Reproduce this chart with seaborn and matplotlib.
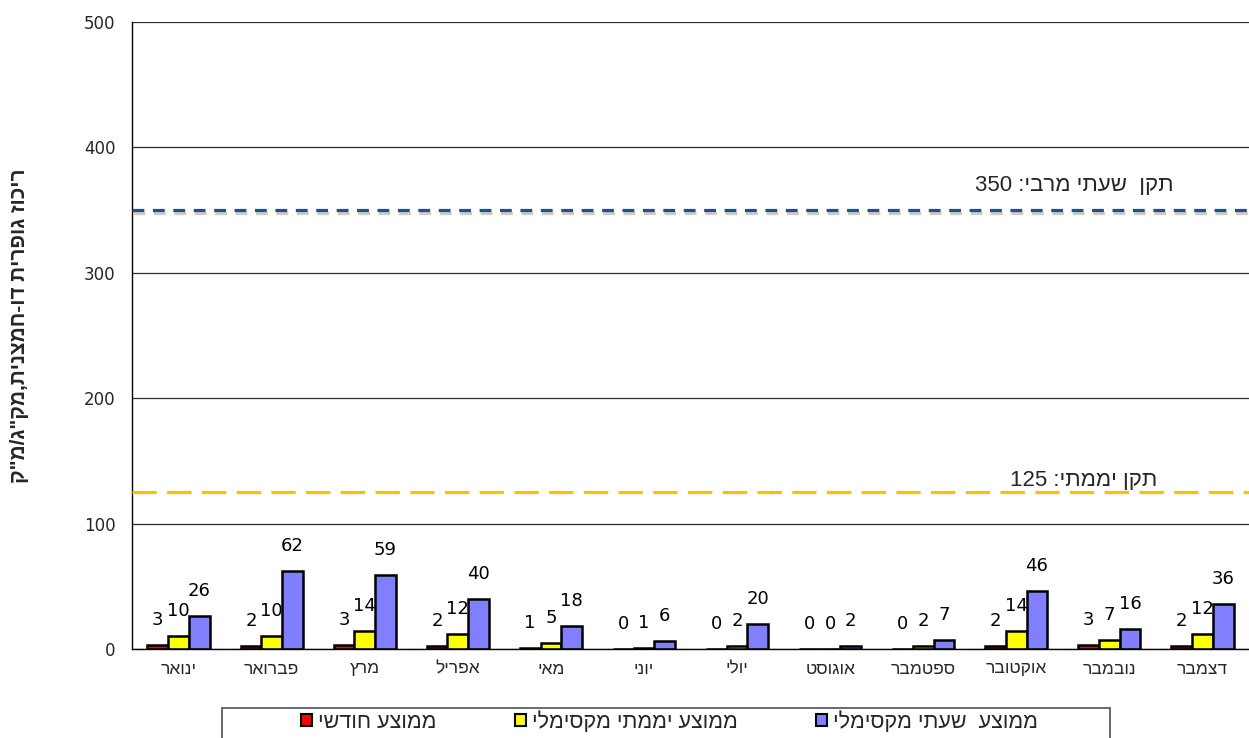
import matplotlib
matplotlib.use("Agg")
import matplotlib.pyplot as plt
import matplotlib.patheffects as pe
from matplotlib.patches import Patch, Rectangle
import numpy as np
import pandas as pd
import seaborn as sns

# Sulfur dioxide concentrations by month (µg/m³)
months = ['ינואר', 'פברואר', 'מרץ', 'אפריל', 'מאי', 'יוני',
          'יולי', 'אוגוסט', 'ספטמבר', 'אוקטובר', 'נובמבר', 'דצמבר']
monthly_avg = [3, 2, 3, 2, 1, 0, 0, 0, 0, 2, 3, 2]
daily_max_avg = [10, 10, 14, 12, 5, 1, 2, 0, 2, 14, 7, 12]
hourly_max_avg = [26, 62, 59, 40, 18, 6, 20, 2, 7, 46, 16, 36]

series_names = ['ממוצע חודשי', 'ממוצע יממתי מקסימלי', 'ממוצע  שעתי מקסימלי']
series_colors = ['#FF0000', '#FFFF00', '#8080FF']

hourly_standard = 350
daily_standard = 125
y_label = 'ריכוז גופרית דו-חמצנית,מק"ג/מ"ק'
y_ticks = [0, 100, 200, 300, 400, 500]


def rtl(text):
    """Visual (left-to-right) order for a right-to-left Hebrew string."""
    return text[::-1]


def rtl_with_number(hebrew, number):
    return f"{number} :" + rtl(hebrew)


sns.set_style("white")
plt.rcParams['font.family'] = ['Liberation Sans', 'DejaVu Sans']
plt.rcParams['lines.scale_dashes'] = False

vis_months = [rtl(m) for m in months]
vis_series = [rtl(s) for s in series_names]

df = pd.DataFrame({
    'month': vis_months * 3,
    'series': sum([[s] * 12 for s in vis_series], []),
    'value': monthly_avg + daily_max_avg + hourly_max_avg,
})

fig = plt.figure(figsize=(12.49, 7.38), dpi=100)
ax = fig.add_axes([132 / 1249, 89 / 738, 1117 / 1249, 627 / 738])

sns.barplot(data=df, x='month', y='value', hue='series', order=vis_months,
            hue_order=vis_series, palette=series_colors, width=0.667,
            edgecolor='black', linewidth=1.8, dodge=True, ax=ax,
            legend=False, saturation=1, errorbar=None)

# value labels above each bar
for container, vals in zip(ax.containers, [monthly_avg, daily_max_avg, hourly_max_avg]):
    for bar, v in zip(container, vals):
        ax.annotate(f"{v}", (bar.get_x() + bar.get_width() / 2, v),
                    xytext=(0, 18), textcoords='offset points',
                    ha='center', va='center', fontsize=13,
                    family='DejaVu Sans', color='black')

ax.set_ylim(0, 500)
ax.set_xlim(-0.5, 11.5)
ax.set_yticks(y_ticks)
ax.yaxis.grid(True, color='#303030', linewidth=0.9)
ax.set_axisbelow(True)

# reference standards
ax.axhline(hourly_standard, color='#24508A', linewidth=2.3, dashes=(8.5, 6.2),
           path_effects=[pe.SimpleLineShadow(offset=(1, -2.2), shadow_color='#8a8a8a', alpha=0.45),
                         pe.Normal()], zorder=3)
ax.axhline(daily_standard, color='#FFC000', linewidth=2.3, dashes=(17.5, 7.5), zorder=3)
ax.text(0.844, 370, rtl_with_number('תקן  שעתי מרבי', hourly_standard),
        transform=ax.get_yaxis_transform(), ha='center', va='center', fontsize=16)
ax.text(0.852, 134, rtl_with_number('תקן יממתי', daily_standard),
        transform=ax.get_yaxis_transform(), ha='center', va='center', fontsize=16)

for side in ['top', 'right']:
    ax.spines[side].set_visible(False)
for side in ['left', 'bottom']:
    ax.spines[side].set_color('black')
    ax.spines[side].set_linewidth(1.0)

ax.tick_params(axis='y', which='major', direction='out', length=6, width=1,
               color='black', labelsize=12, pad=6)
for lbl in ax.get_yticklabels():
    lbl.set_family('DejaVu Sans')
ax.set_xticks(np.arange(-0.5, 12, 1), minor=True)
ax.tick_params(axis='x', which='major', length=0, labelsize=12.5, pad=9)
ax.tick_params(axis='x', which='minor', direction='out', length=6, width=1, color='black')
ax.set_xlabel('')
ax.set_ylabel(rtl(y_label), fontsize=15, fontweight='bold')
ax.yaxis.set_label_coords(-0.092, 0.515)

# legend: wide frame beneath the plot, one entry per series
frame = Rectangle((222 / 1249, -0.05), 888 / 1249, (738 - 708) / 738 + 0.05,
                  transform=fig.transFigure, facecolor='white',
                  edgecolor='#505050', linewidth=1.2)
fig.patches.append(frame)
entry_left = [301, 515, 816]
for color, name, x0 in zip(series_colors, vis_series, entry_left):
    handle = Patch(facecolor=color, edgecolor='black', linewidth=1.5)
    fig.legend([handle], [name], loc='center left',
               bbox_to_anchor=(x0 / 1249, 16 / 738), frameon=False, fontsize=15.5,
               handlelength=0.5, handleheight=0.5, handletextpad=0.3,
               borderpad=0, borderaxespad=0)

fig.savefig('out.png', dpi=100)
